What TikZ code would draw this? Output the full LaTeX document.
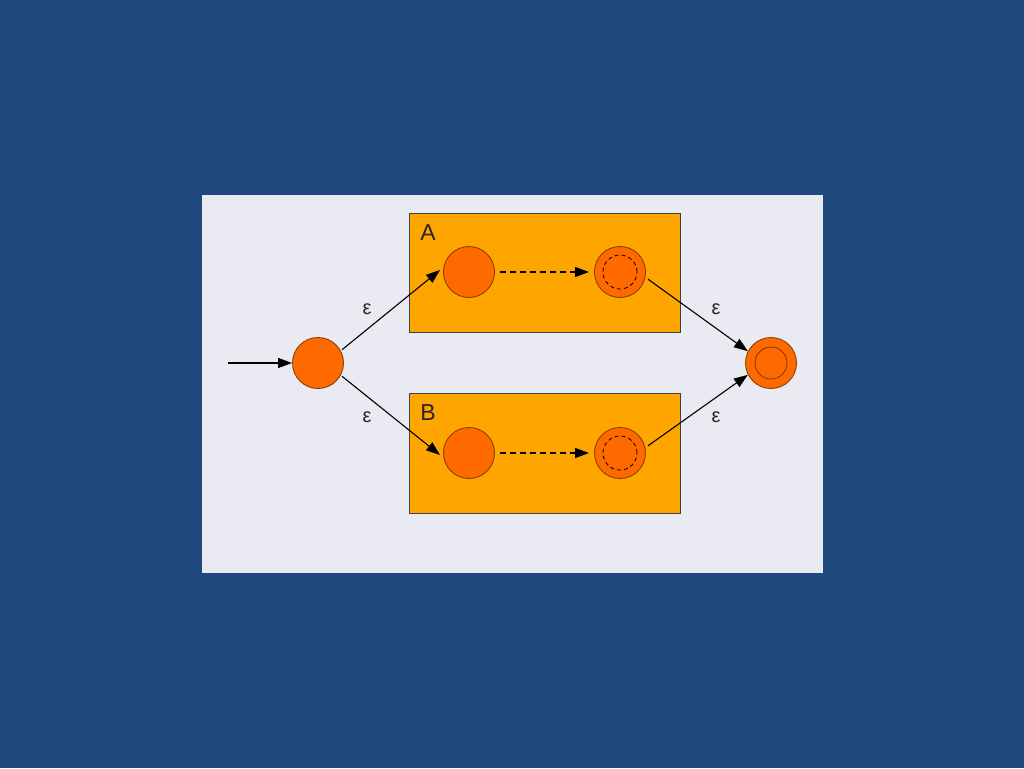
\documentclass[tikz,border=0pt]{standalone}
\usepackage{fontspec}
\setmainfont{Liberation Sans}
\usetikzlibrary{arrows.meta}
\definecolor{bgblue}{HTML}{1F497D}
\definecolor{panel}{HTML}{E9EAF2}
\definecolor{boxor}{HTML}{FFA500}
\definecolor{stfill}{HTML}{FF6A00}
\definecolor{stedge}{HTML}{8A3E00}
\tikzset{
  state/.style={circle,draw=stedge,fill=stfill,line width=0.9pt,minimum size=51pt,inner sep=0pt},
  subbox/.style={draw=black!75,fill=boxor,line width=0.9pt},
  edge/.style={line width=1.1pt,-{Triangle[length=14pt,width=10pt]}},
  dedge/.style={edge,dash pattern=on 6pt off 4pt},
  lbl/.style={font=\fontsize{20}{22}\selectfont,text=black!85},
  boxlbl/.style={font=\fontsize{23}{24}\selectfont,text=black!85}
}
\begin{document}
\begin{tikzpicture}[x=1pt,y=-1pt]
\useasboundingbox (0,0) rectangle (1024,768);
\fill[bgblue] (0,0) rectangle (1024,768);
\fill[panel] (202,195) rectangle (823,573);
\draw[subbox] (409,213) rectangle (680,332);
\draw[subbox] (409,393) rectangle (680,513);
\node[boxlbl] (la) at (428,233) {A};
\node[boxlbl] (lb) at (428,413) {B};
\node[state] (s) at (318,363) {};
\node[state] (a1) at (469,272) {};
\node[state] (a2) at (620,272) {};
\node[state] (b1) at (469,453) {};
\node[state] (b2) at (620,453) {};
\node[state] (f) at (771,363) {};
\draw[stedge,line width=0.9pt] (f) circle (16pt);
\draw[black,line width=0.8pt,dash pattern=on 4pt off 3pt] (a2) circle (17pt);
\draw[black,line width=0.8pt,dash pattern=on 4pt off 3pt] (b2) circle (17pt);
\coordinate (in) at (228,363);
\draw[edge] (in) -- (s.west);
\draw[edge] ([xshift=3pt,yshift=-2pt]s.36) -- ([xshift=-3pt,yshift=2pt]a1.west);
\draw[edge] ([xshift=3pt,yshift=2pt]s.-36) -- ([xshift=-3pt,yshift=-2pt]b1.west);
\draw[dedge] ([xshift=5pt]a1.east) -- ([xshift=-5pt]a2.west);
\draw[dedge] ([xshift=5pt]b1.east) -- ([xshift=-5pt]b2.west);
\draw[edge] ([xshift=3pt]a2.-16) -- (f.153);
\draw[edge] ([xshift=3pt]b2.16) -- (f.207);
\node[lbl] (e1) at (367,309) {ε};
\node[lbl] (e2) at (367,417) {ε};
\node[lbl] (e3) at (716,309) {ε};
\node[lbl] (e4) at (716,417) {ε};
\end{tikzpicture}
\end{document}
